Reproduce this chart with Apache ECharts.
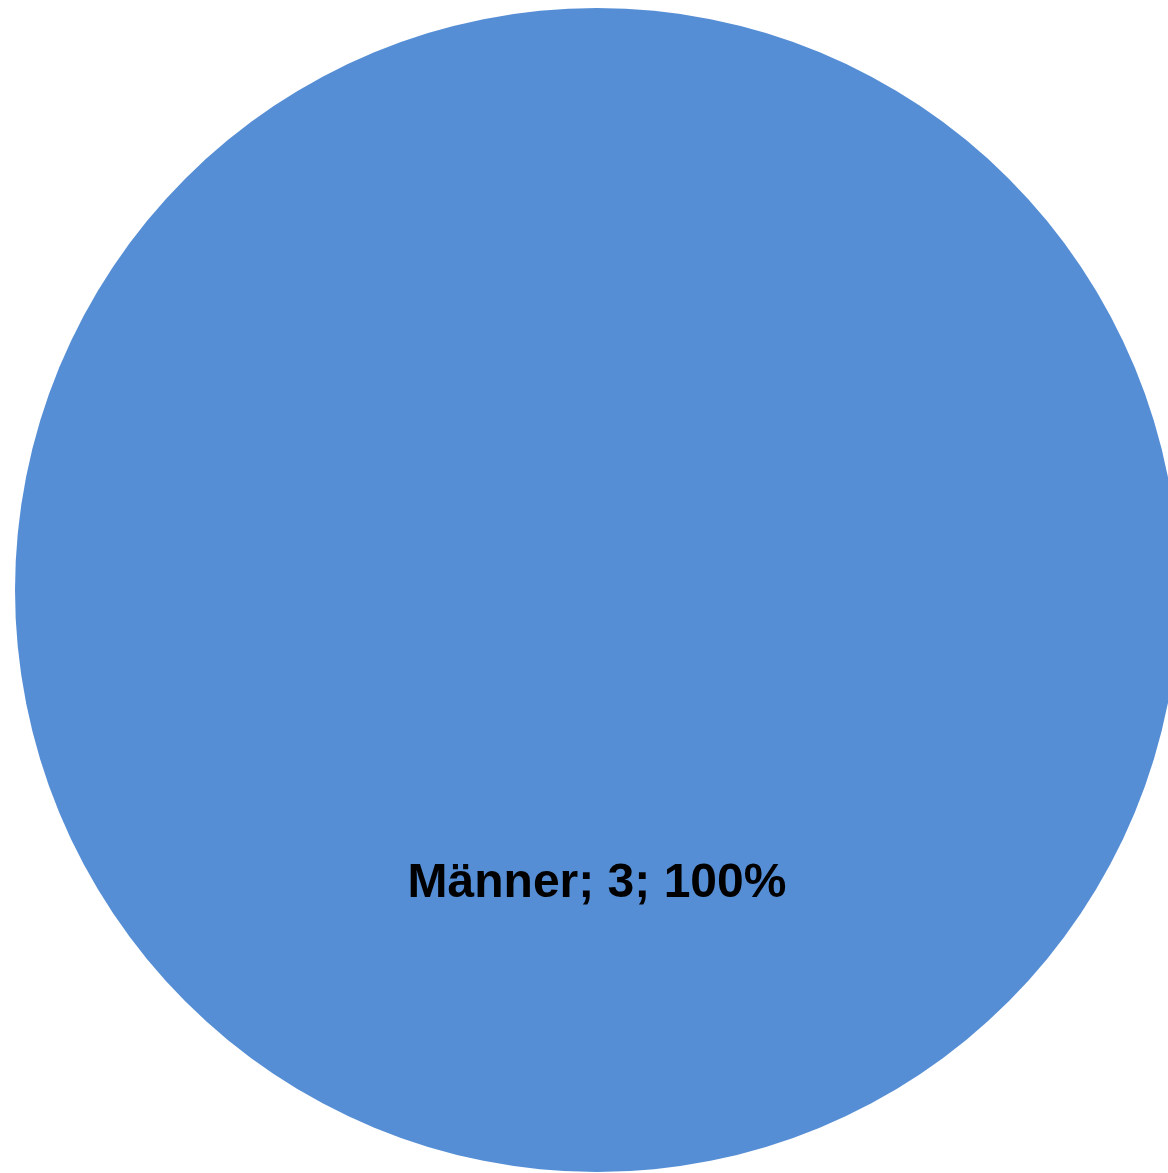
<!DOCTYPE html>
<html>
<head>
<meta charset="utf-8">
<style>
  html, body { margin: 0; padding: 0; background: #ffffff; }
  #chart { width: 1168px; height: 1173px; }
</style>
<script src="https://cdn.jsdelivr.net/npm/echarts@6/dist/echarts.min.js"></script>
</head>
<body>
<div id="chart"></div>
<script>
const categories = ['Männer'];
const values = [3];
const colors = ['#558ED5'];

const chart = echarts.init(document.getElementById('chart'), null, { renderer: 'canvas' });
chart.setOption({
  animation: false,
  backgroundColor: '#ffffff',
  series: [{
    type: 'pie',
    center: [597, 590],
    radius: [0, 582],
    startAngle: 90,
    clockwise: true,
    data: categories.map((c, i) => ({ name: c, value: values[i], itemStyle: { color: colors[i] } })),
    itemStyle: { borderWidth: 0 },
    label: {
      show: true,
      position: 'inside',
      formatter: '{b}; {c}; {d}%',
      color: '#000000',
      fontFamily: '"Liberation Sans", Arial, sans-serif',
      fontWeight: 'bold',
      fontSize: 48
    },
    labelLine: { show: false },
    emphasis: { disabled: true },
    silent: true
  }]
});
</script>
</body>
</html>
